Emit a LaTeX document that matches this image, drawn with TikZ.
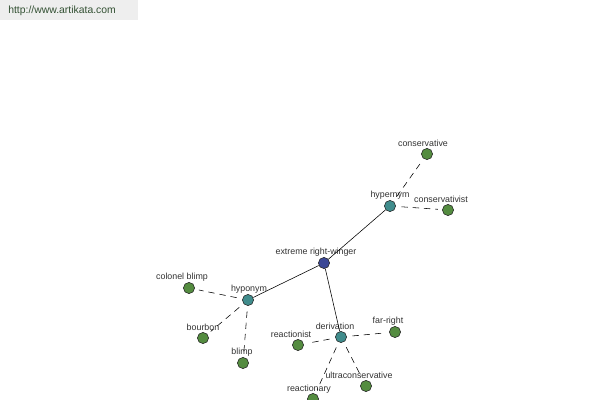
\documentclass[tikz,border=0pt]{standalone}
\usepackage{fontspec}
\setmainfont{Liberation Sans}
\usepackage{xcolor}
\usetikzlibrary{positioning}
\definecolor{leafgreen}{RGB}{84,140,64}
\definecolor{hubteal}{RGB}{64,140,140}
\definecolor{rootblue}{RGB}{60,72,150}
\definecolor{urlgray}{RGB}{238,238,238}
\definecolor{urltext}{RGB}{50,80,50}

\begin{document}
\begin{tikzpicture}[x=0.025cm, y=-0.025cm,
  leaf/.style={circle, draw=black!85, thin, fill=leafgreen, minimum size=0.28cm, inner sep=0pt},
  hub/.style={circle, draw=black!85, thin, fill=hubteal, minimum size=0.28cm, inner sep=0pt},
  root/.style={circle, draw=black!85, thin, fill=rootblue, minimum size=0.28cm, inner sep=0pt},
  lbl/.style={inner sep=0pt, text=black!80, font=\fontsize{6.3}{7}\selectfont},
  rel/.style={black, thin},
  syn/.style={black, thin, dash pattern=on 4.5pt off 3.5pt, shorten >=3pt, shorten <=4pt}]

\useasboundingbox (0,0) rectangle (600,400);
\fill[white] (0,0) rectangle (600,400);

% site header
\node at (0,0) [rectangle, fill=urlgray, minimum height=0.5cm, minimum width=3.45cm, anchor=north west] (urlbox) {};
\node [right, inner sep=0pt, text=urltext, font=\fontsize{7.4}{9}\selectfont] at (8,11) (url) {http://www.artikata.com};

% word and relation hubs
\node at (324,263) [root] (erw) {};
\node at (390,206) [hub] (hyper) {};
\node at (248,300) [hub] (hypo) {};
\node at (341,337) [hub] (deriv) {};

% related words
\node at (427,154) [leaf] (cons) {};
\node at (448,210) [leaf] (consist) {};
\node at (189,288) [leaf] (colonel) {};
\node at (203,338) [leaf] (bourbon) {};
\node at (243,363) [leaf] (blimp) {};
\node at (298,345) [leaf] (reactionist) {};
\node at (395,332) [leaf] (farright) {};
\node at (366,386) [leaf] (ultra) {};
\node at (313,399) [leaf] (reactionary) {};

% labels
\node [lbl] at (316,252) (erwl) {extreme right-winger};
\node [lbl] at (390,195) (hyperl) {hypernym};
\node [lbl] at (249,289) (hypol) {hyponym};
\node [lbl] at (335,326) (derivl) {derivation};
\node [lbl] at (423,143) (consl) {conservative};
\node [lbl] at (441,199) (consistl) {conservativist};
\node [lbl] at (182,277) (colonell) {colonel blimp};
\node [lbl] at (203,327) (bourbonl) {bourbon};
\node [lbl] at (242,352) (blimpl) {blimp};
\node [lbl] at (291,334) (reactionistl) {reactionist};
\node [lbl] at (388,321) (farrightl) {far-right};
\node [lbl] at (359,375) (ultral) {ultraconservative};
\node [lbl] at (309,389) (reactionaryl) {reactionary};

% connectors
\draw [rel] (erw) -- (hyper);
\draw [rel] (erw) -- (hypo);
\draw [rel] (erw) -- (deriv);

\draw [syn] (hyper) -- (cons);
\draw [syn] (hyper) -- (consist);
\draw [syn] (hypo) -- (colonel);
\draw [syn] (hypo) -- (bourbon);
\draw [syn] (hypo) -- (blimp);
\draw [syn] (deriv) -- (reactionist);
\draw [syn] (deriv) -- (farright);
\draw [syn] (deriv) -- (ultra);
\draw [syn] (deriv) -- (reactionary);

\end{tikzpicture}
\end{document}
